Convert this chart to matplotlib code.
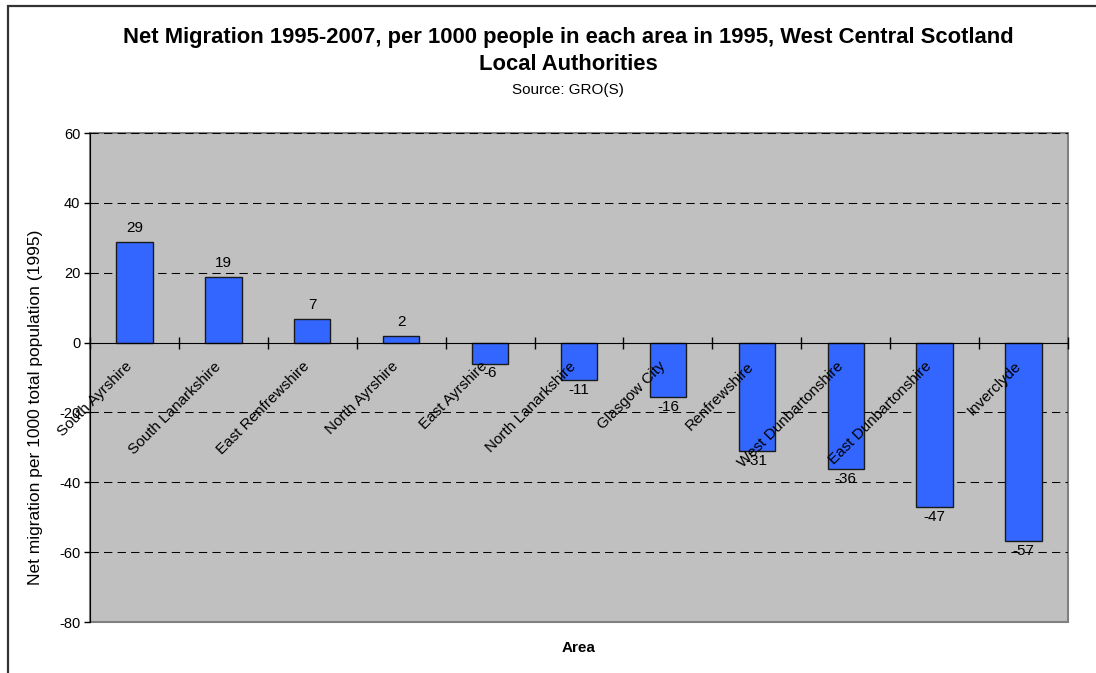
import numpy as np
import matplotlib.pyplot as plt
from matplotlib.patches import Rectangle

plt.rcParams['font.family'] = ['Liberation Sans', 'DejaVu Sans']
plt.rcParams['axes.unicode_minus'] = False

# data
areas = ["South Ayrshire", "South Lanarkshire", "East Renfrewshire", "North Ayrshire",
         "East Ayrshire", "North Lanarkshire", "Glasgow City", "Renfrewshire",
         "West Dunbartonshire", "East Dunbartonshire", "Inverclyde"]
net_migration = [28.9, 18.7, 6.7, 1.9, -6.0, -10.7, -15.7, -31.1, -36.2, -47.1, -56.9]
y_ticks = [-80, -60, -40, -20, 0, 20, 40, 60]

W, H = 1096, 673
fig = plt.figure(figsize=(W / 100, H / 100), dpi=100)

# outer chart frame (cut off at right and bottom, as in the reference)
fig.patches.append(Rectangle((8 / W, -0.05), 1.2, 1 - 6.5 / H + 0.05,
                             transform=fig.transFigure, fill=False,
                             edgecolor='#333333', linewidth=1.6))

ax = fig.add_axes([90 / W, 1 - 622 / H, (1068 - 90) / W, (622 - 133) / H])
ax.set_facecolor('#C0C0C0')
ax.set_axisbelow(False)

x = np.arange(len(areas))
ax.bar(x, net_migration, width=0.41, color='#3366FF', edgecolor='#1a1a1a',
       linewidth=1.0, zorder=2)

for xi, v in zip(x, net_migration):
    if v >= 0:
        ax.annotate(f"{round(v):d}", (xi, v), xytext=(0, 5), textcoords='offset points',
                    ha='center', va='bottom', fontsize=11, zorder=5)
    else:
        ax.annotate(f"{round(v):d}", (xi, v), xytext=(0, -2), textcoords='offset points',
                    ha='center', va='top', fontsize=11, zorder=5)

ax.set_xlim(-0.5, len(areas) - 0.5)
ax.set_ylim(-80, 60)
ax.set_yticks(y_ticks)
ax.tick_params(axis='y', direction='out', length=4, width=1, labelsize=10.5, pad=3)

# gridlines
for t in y_ticks:
    if t not in (0, -80):
        ax.axhline(t, color='black', linewidth=0.75, linestyle=(0, (8, 5)), zorder=1)

# x axis sits on zero
ax.spines['bottom'].set_position(('data', 0))
ax.spines['bottom'].set_color('black')
ax.spines['left'].set_color('black')
ax.spines['top'].set_visible(False)
ax.spines['right'].set_visible(False)
ax.add_patch(Rectangle((0, 0), 1, 1, transform=ax.transAxes, fill=False,
                       edgecolor='#808080', linewidth=1.5, zorder=0.5, clip_on=False))

ax.set_xticks(x)
ax.set_xticklabels(areas, rotation=45, ha='right', va='top', fontsize=11)
ax.tick_params(axis='x', which='major', length=0, pad=12)
ax.set_xticks(np.arange(len(areas) + 1) - 0.5, minor=True)
ax.tick_params(axis='x', which='minor', direction='inout', length=8, width=1)

ax.set_ylabel("Net migration per 1000 total population (1995)", fontsize=12.5)
ax.yaxis.set_label_coords(-0.048, 0.44)

fig.text(579 / W, 1 - 648 / H, "Area", ha='center', va='center',
         fontsize=11, fontweight='bold')

fig.text(568 / W, 1 - 38 / H, "Net Migration 1995-2007, per 1000 people in each area in 1995, West Central Scotland",
         ha='center', va='center', fontsize=15.8, fontweight='bold')
fig.text(568 / W, 1 - 64 / H, "Local Authorities", ha='center', va='center',
         fontsize=15.8, fontweight='bold')
fig.text(568 / W, 1 - 90 / H, "Source: GRO(S)", ha='center', va='center', fontsize=11)

fig.savefig('out.png', dpi=100)
